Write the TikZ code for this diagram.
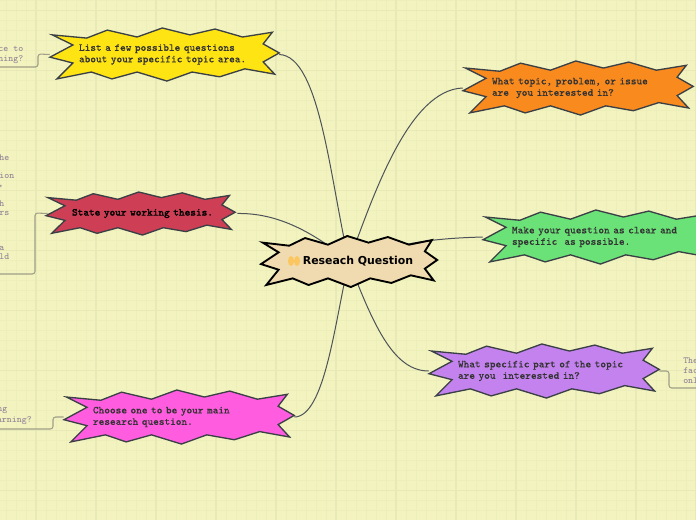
\documentclass[tikz,border=0pt]{standalone}
\usepackage{fontspec}
\newfontfamily\titlefont{DejaVu Sans}
\newfontfamily\topicfont[FakeBold=0.3]{Latin Modern Mono}
\newfontfamily\thesisfont[FakeBold=1.6]{Latin Modern Mono}
\usepackage{xcolor}
\usetikzlibrary{backgrounds}
\definecolor{paper}{HTML}{F2F3BE}
\definecolor{gridfine}{HTML}{ECEFBA}
\definecolor{gridbold}{HTML}{E7EAB6}
\definecolor{notetext}{HTML}{8F7F96}
\definecolor{noteline}{HTML}{A0A088}
\definecolor{burstline}{HTML}{3A4046}
\definecolor{mainfill}{HTML}{F0DAB0}
\definecolor{iconfill}{HTML}{FBC65E}
\definecolor{yellowfill}{HTML}{FFE414}
\definecolor{orangefill}{HTML}{F98A1E}
\definecolor{greenfill}{HTML}{6BE277}
\definecolor{redfill}{HTML}{CE3F56}
\definecolor{pinkfill}{HTML}{FF5CE0}
\definecolor{purplefill}{HTML}{C482EE}
\tikzset{
  burstedge/.style  = {draw=burstline, line width=1pt, line join=miter},
  topic/.style      = {font=\topicfont\fontsize{8pt}{8.6pt}\selectfont, text=black!80, align=left, inner sep=0pt},
  thesisburst/.style= {topic/.append style={font=\thesisfont\fontsize{8pt}{8.6pt}\selectfont, text=black, align=center, text width=130pt, xshift=1.5pt}},
  mainburst/.style  = {burstedge/.append style={draw=black, line width=1.4pt},
                       topic/.append style={font=\titlefont\fontsize{8.2pt}{10pt}\selectfont\bfseries, text=black, align=center, text width=125pt}},
  note/.style       = {font=\ttfamily\fontsize{7pt}{8pt}\selectfont, text=notetext, inner sep=0pt},
  branch/.style     = {draw=burstline!90, line width=0.75pt},
  noteedge/.style   = {draw=noteline, line width=0.8pt, rounded corners=2pt},
}
% options, left, top, width, height, fill, name, text
\newcommand{\burstnode}[8][]{%
  \begin{scope}[#1]
  \begin{scope}[shift={(#2,#3)}, x=#4*0.0075pt, y=-#5*0.0075pt]
    \draw[burstedge, fill=#6] (1,13) -- (16,19) -- (25,4) -- (38,17) -- (49,0) -- (61,13) -- (72,2)
      -- (84,17) -- (97,8) -- (93,30) -- (100,47) -- (93,64) -- (98,87) -- (85,77) -- (74,92)
      -- (62,83) -- (51,100) -- (38,83) -- (27,96) -- (18,83) -- (3,96) -- (10,66) -- (0,55) -- (10,32) -- cycle;
  \end{scope}
  \node[minimum width=#4*0.75pt, minimum height=#5*0.75pt, text width=(#4-58)*0.75pt, topic]
    (#7) at (#2+#4/2,#3+#5/2) {#8};
  \end{scope}
}
\begin{document}
\begin{tikzpicture}[x=0.75pt, y=-0.75pt]
\useasboundingbox (0,0) rectangle (696,520);

\burstnode[mainburst]{261}{236}{176}{51}{mainfill}{main}{\hspace*{13.5pt}Reseach Question}
\burstnode{50}{28}{229}{53}{yellowfill}{possible}{List a few possible questions\\about your specific topic area.}
\burstnode{463}{61}{230}{54}{orangefill}{interest}{What topic, problem, or issue\\are\ \ you interested in?}
\burstnode{483}{210}{230}{54}{greenfill}{clear}{Make your question as clear and\\specific\ \ as possible.}
\burstnode[thesisburst]{46}{192}{189}{43}{redfill}{thesis}{State your working thesis.}
\burstnode{64}{390}{230}{54}{pinkfill}{choose}{Choose one to be your main\\research question.}
\burstnode{429}{344}{230}{54}{purplefill}{part}{What specific part of the topic\\are you\ \ interested in?}

\fill[iconfill] (291,261) ellipse (3 and 5);
\fill[iconfill] (297,261) ellipse (3 and 5);

% side notes, cut off by the page
\foreach \i/\xpos/\ypos/\txt in {1/23.5/49/ce to, 2/23.5/60/ning?, 3/9.5/158/he, 4/14.5/176/ion, 5/3.5/187/{,},
    6/4.5/204/h, 7/9.5/213/rs, 8/4.5/248/a, 9/9.5/257/ld, 10/7.5/411/ng, 11/32/421/arning?}
  \node[note, anchor=east] (note\i) at (\xpos,\ypos) {\txt};
\foreach \i/\ypos/\txt in {12/361/The, 13/371/fac, 14/381/onl}
  \node[note, anchor=west] (note\i) at (683,\ypos) {\txt};

\coordinate (possibleend) at (0,67);
\coordinate (thesisend) at (0,274);
\coordinate (chooseend) at (0,429);
\coordinate (partend) at (696,388);

\begin{scope}[on background layer]
\fill[paper] (0,0) rectangle (696,520);
\foreach \xpos in {6,16,...,696} \draw[gridfine, line width=0.6pt] (\xpos,0) -- (\xpos,520);
\foreach \ypos in {0.7,10.7,...,520} \draw[gridfine, line width=0.6pt] (0,\ypos) -- (696,\ypos);
\foreach \xpos in {36,96,...,696} \draw[gridbold, line width=0.8pt] (\xpos,0) -- (\xpos,520);
\foreach \ypos in {10.7,70.7,...,520} \draw[gridbold, line width=0.8pt] (0,\ypos) -- (696,\ypos);

\draw[branch] (possible.east) .. controls (320,56) and (330,180) .. (main.center);
\draw[branch] (interest.west) .. controls (410,90) and (375,190) .. (main.center);
\draw[branch] (clear.west) .. controls (450,238) and (400,240) .. (main.center);
\draw[branch] (thesis.east) .. controls (270,213) and (305,225) .. (main.center);
\draw[branch] (choose.east) .. controls (325,417) and (335,320) .. (main.center);
\draw[branch] (part.west) .. controls (395,371) and (375,330) .. (main.center);

\draw[noteedge] (possible.west) -- (38,54) -- (38,67) -- (possibleend);
\draw[noteedge] (thesis.west) -- (35,213) -- (35,274) -- (thesisend);
\draw[noteedge] (choose.west) -- (53,417) -- (53,429) -- (chooseend);
\draw[noteedge] (part.east) -- (669,371) -- (669,388) -- (partend);
\end{scope}
\end{tikzpicture}
\end{document}
